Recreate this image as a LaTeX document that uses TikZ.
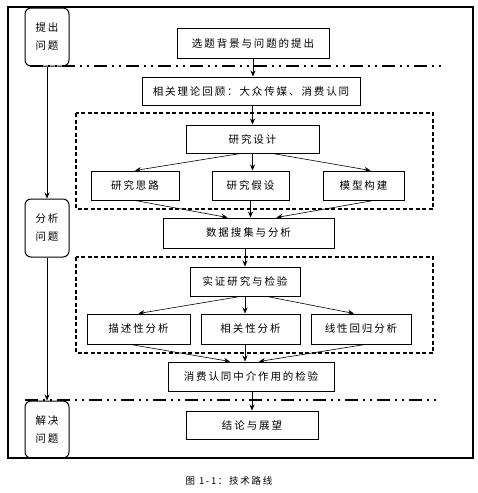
\documentclass[tikz,border=0pt]{standalone}
\usepackage{fontspec}
\setmainfont{Noto Sans CJK SC}
\newfontfamily\cjk[LetterSpace=18]{Noto Sans CJK SC}
\usepackage{tikz}
\usetikzlibrary{arrows.meta}

\begin{document}
\begin{tikzpicture}[>={Stealth[length=6pt,width=5pt]}, x=1pt, y=-1pt,
		box/.style={draw, line width=1pt, inner sep=0pt, font=\cjk\fontsize{10.5}{12}\selectfont},
		stage/.style={draw, line width=1pt, rounded corners=6pt, inner sep=0pt, align=center,
			minimum width=44pt, font=\cjk\fontsize{10.5}{18}\selectfont},
		frame/.style={draw, line width=1.2pt, dash pattern=on 4pt off 2.5pt}] % one unit = one pixel
			% Fix the page size
			\useasboundingbox (0,0) rectangle (477,493);

			% Outer frame
			\draw[line width=1.5pt] (8,7) rectangle (473,458);

			% Macro for drawing a dash-dot separator line.
			% Usage: \drawseparator{y}{x start}{x end}
			\newcommand{\drawseparator}[3]{
				\draw[line width=1.8pt, dash pattern=on 13pt off 5pt on 2pt off 5pt on 2pt off 5pt] (#2,#1) -- (#3,#1);
			}
			\drawseparator{66}{30}{445};
			\drawseparator{400}{25}{437};

			% Stages on the left
			\node[stage, minimum height=58pt] (tichu) at (47,37) {提出\\问题};
			\node[stage, minimum height=58pt] (fenxi) at (47,228) {分析\\问题};
			\node[stage, minimum height=57pt] (jiejue) at (47,429.5) {解决\\问题};
			\draw[->, line width=0.8pt] (tichu) -- (fenxi);
			\draw[->, line width=0.8pt] (fenxi) -- (jiejue);

			% Dashed groups
			\draw[frame] (76,113) rectangle (433,209);
			\draw[frame] (76,257) rectangle (433,353);

			% Boxes of the route
			\node[box, minimum width=152pt, minimum height=30pt] (xuanti) at (253,43) {选题背景与问题的提出};
			\node[box, minimum width=218pt, minimum height=28pt] (lilun) at (251,91) {相关理论回顾：大众传媒、消费认同};
			\node[box, minimum width=133pt, minimum height=28pt] (sheji) at (252.5,139) {研究设计};
			\node[box, minimum width=88pt, minimum height=29pt] (silu) at (135,185.5) {研究思路};
			\node[box, minimum width=77pt, minimum height=29pt] (jiashe) at (250.5,185.5) {研究假设};
			\node[box, minimum width=81pt, minimum height=29pt] (moxing) at (363.5,185.5) {模型构建};
			\node[box, minimum width=171pt, minimum height=30pt] (shuju) at (248.5,233) {数据搜集与分析};
			\node[box, minimum width=110pt, minimum height=29pt] (shizheng) at (245,281.5) {实证研究与检验};
			\node[box, minimum width=103pt, minimum height=30pt] (miaoshu) at (138.5,329) {描述性分析};
			\node[box, minimum width=99pt, minimum height=30pt] (xiangguan) at (250.5,329) {相关性分析};
			\node[box, minimum width=100pt, minimum height=30pt] (huigui) at (361,329) {线性回归分析};
			\node[box, minimum width=166pt, minimum height=29pt] (zhongjie) at (251,376.5) {消费认同中介作用的检验};
			\node[box, minimum width=132pt, minimum height=28pt] (jielun) at (252,425) {结论与展望};

			% Arrows between the boxes
			\begin{scope}[line width=0.6pt]
				\draw[->] (xuanti.south) -- (xuanti.south |- lilun.north);
				\draw[->] (sheji.north |- lilun.south) -- (sheji.north);
				\draw[->] ([xshift=-12pt]sheji.south) -- (silu.north);
				\draw[->] (sheji.south) -- (sheji.south |- jiashe.north);
				\draw[->] ([xshift=20pt]sheji.south) -- ([xshift=7pt]moxing.north);
				\draw[->] (silu.south) -- ([xshift=-21pt]shuju.north);
				\draw[->] (jiashe.south) -- (jiashe.south |- shuju.north);
				\draw[->] ([xshift=10pt]moxing.south) -- ([xshift=28pt]shuju.north);
				\draw[->] (shizheng.north |- shuju.south) -- (shizheng.north);
				\draw[->] ([xshift=-5pt]shizheng.south) -- (miaoshu.north);
				\draw[->] (shizheng.south) -- (shizheng.south |- xiangguan.north);
				\draw[->] ([xshift=22pt]shizheng.south) -- ([xshift=-7pt]huigui.north);
				\draw[->] ([xshift=-8pt]miaoshu.south) -- ([xshift=-21pt]zhongjie.north);
				\draw[->] (shizheng.south |- xiangguan.south) -- (shizheng.south |- zhongjie.north);
				\draw[->] ([xshift=4pt]huigui.south) -- ([xshift=8pt]zhongjie.north);
				\draw[->] (jielun.north |- zhongjie.south) -- (jielun.north);
			\end{scope}

			% Caption
			\node[font=\cjk\fontsize{9.5}{11}\selectfont] (caption) at (229,481) {图 1-1：技术路线};
		\end{tikzpicture}
\end{document}
